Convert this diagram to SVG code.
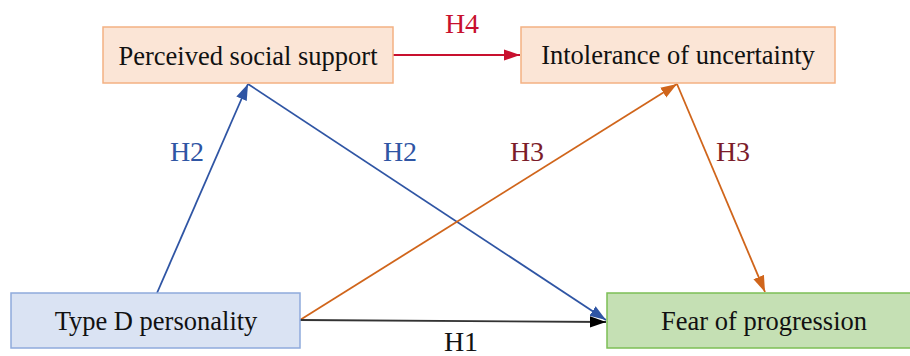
<svg xmlns="http://www.w3.org/2000/svg" width="910" height="356" viewBox="0 0 910 356">
<defs>
<style>
.lbl{font-family:'Liberation Serif','Times New Roman',serif;font-size:28px;text-anchor:middle;}
.nt{font-family:'Liberation Serif','Times New Roman',serif;font-size:26.5px;text-anchor:middle;fill:#111;}
.or rect{fill:#FBE5D6;stroke:#F4B183;stroke-width:1.5;}
.bl rect{fill:#DAE3F3;stroke:#8FAADC;stroke-width:1.5;}
.gr rect{fill:#C5E0B4;stroke:#7CBF55;stroke-width:1.5;}
.c{fill:none;stroke-width:1.8;}
</style>
<marker id="aB" viewBox="0 0 10 10" refX="10" refY="5" markerWidth="9" markerHeight="9" orient="auto"><path d="M0,1.5 L10,5 L0,8.5 z" fill="#2F55A4"/></marker>
<marker id="aO" viewBox="0 0 10 10" refX="10" refY="5" markerWidth="9" markerHeight="9" orient="auto"><path d="M0,1.5 L10,5 L0,8.5 z" fill="#D0651B"/></marker>
<marker id="aR" viewBox="0 0 10 10" refX="10" refY="5" markerWidth="9" markerHeight="9" orient="auto"><path d="M0,1.5 L10,5 L0,8.5 z" fill="#C8102E"/></marker>
<marker id="aK" viewBox="0 0 10 10" refX="10" refY="5" markerWidth="9" markerHeight="9" orient="auto"><path d="M0,1.5 L10,5 L0,8.5 z" fill="#000"/></marker>
</defs>
<rect width="910" height="356" fill="#fff"/>
<g id="connectors">
<line class="c" x1="157" y1="293" x2="248" y2="84" stroke="#2F55A4" marker-end="url(#aB)"/>
<line class="c" x1="248" y1="84" x2="606" y2="320" stroke="#2F55A4" marker-end="url(#aB)"/>
<line class="c" x1="300" y1="320" x2="677" y2="84" stroke="#D0651B" marker-end="url(#aO)"/>
<line class="c" x1="677" y1="84" x2="765" y2="292" stroke="#D0651B" marker-end="url(#aO)"/>
<line class="c" x1="393" y1="55" x2="520" y2="55" stroke="#C8102E" marker-end="url(#aR)"/>
<line class="c" x1="300" y1="320" x2="606" y2="322" stroke="#333" marker-end="url(#aK)"/>
<text class="lbl" x="462" y="33" fill="#C8102E">H4</text>
<text class="lbl" x="187" y="161" fill="#2F55A4">H2</text>
<text class="lbl" x="400" y="161" fill="#2F55A4">H2</text>
<text class="lbl" x="527" y="161" fill="#7B1C2A">H3</text>
<text class="lbl" x="733" y="161" fill="#7B1C2A">H3</text>
<text class="lbl" x="461" y="351" fill="#111">H1</text>
</g>
<g id="pss" class="or"><rect x="103" y="27" width="290" height="56"/><text class="nt" x="248" y="65">Perceived social support</text></g>
<g id="iu" class="or"><rect x="521" y="27" width="314" height="56"/><text class="nt" x="678" y="64">Intolerance of uncertainty</text></g>
<g id="tdp" class="bl"><rect x="11" y="293" width="289" height="55"/><text class="nt" x="156" y="330">Type D personality</text></g>
<g id="fop" class="gr"><rect x="607" y="293" width="314" height="55"/><text class="nt" x="764" y="330">Fear of progression</text></g>
</svg>
